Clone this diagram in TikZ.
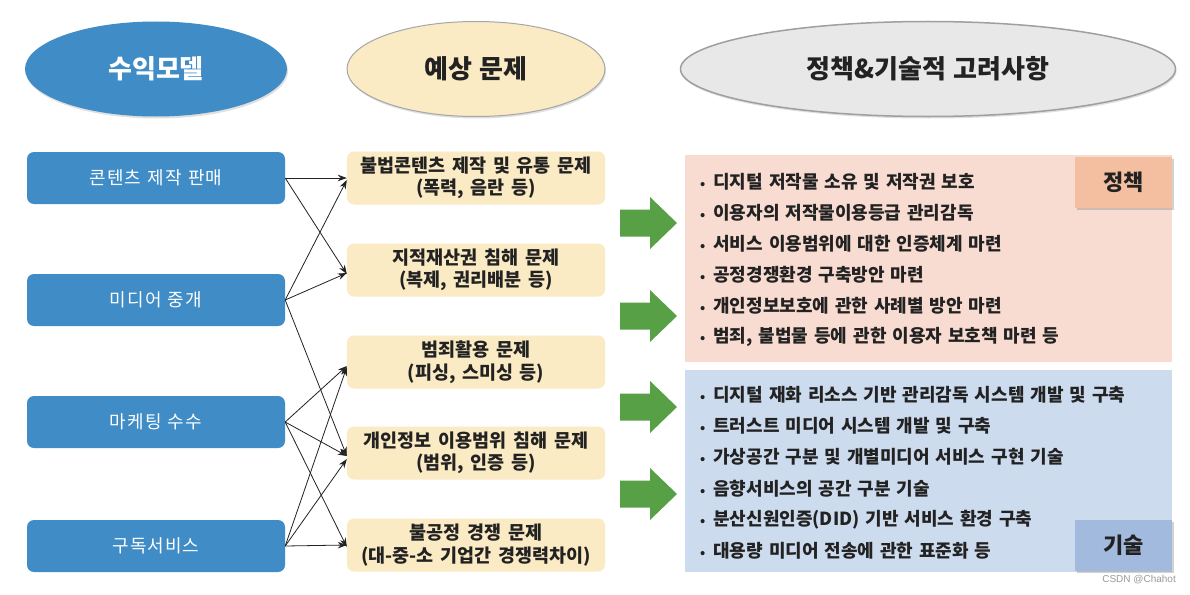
\documentclass[tikz,border=0pt]{standalone}
\usepackage{fontspec}
\setmainfont{Noto Sans CJK KR}
\newfontfamily\krls[LetterSpace=6]{Noto Sans CJK KR}
\newfontfamily\wmfont{Liberation Sans}
\usetikzlibrary{arrows.meta,shapes.geometric,shadows}
\definecolor{hblue}{HTML}{3F8CC6}
\definecolor{ylw}{HTML}{FBEBC4}
\definecolor{hgray}{HTML}{E8E8E8}
\definecolor{pinkp}{HTML}{F9DCD1}
\definecolor{pinkl}{HTML}{F4BFA0}
\definecolor{bluep}{HTML}{CDDBEF}
\definecolor{bluel}{HTML}{A2BADD}
\definecolor{grn}{HTML}{57A046}
\definecolor{txt}{HTML}{222222}
\newcommand\wsp[1]{\spaceskip=#1em plus 0.1em\relax}
\newcommand\bul{{\fontsize{13}{13}\selectfont•}\hspace{8pt}}
\tikzset{
  hdr/.style={ellipse, inner sep=0pt, minimum height=95pt, font=\fontsize{26}{28}\selectfont\bfseries\wsp{0.3},
    drop shadow={opacity=0.25, shadow xshift=1pt, shadow yshift=-2pt}},
  bbox/.style={rectangle, rounded corners=7pt, fill=hblue, text=white, minimum width=258pt, minimum height=52pt,
    inner sep=0pt, font=\krls\fontsize{18}{22}\selectfont\wsp{0.35}},
  ybox/.style={rectangle, rounded corners=7pt, fill=ylw, text=txt, minimum width=258pt, minimum height=53pt,
    inner sep=0pt, align=center, font=\fontsize{18.5}{22.5}\selectfont\bfseries\wsp{0.36}},
  panel/.style={rectangle, anchor=north west, inner sep=0pt, minimum width=487pt},
  item/.style={anchor=west, inner sep=0pt, text=txt, font=\fontsize{18}{20}\selectfont\bfseries\wsp{0.33}},
  tag/.style={rectangle, anchor=north west, inner sep=0pt, minimum width=97pt, minimum height=51pt,
    text=txt, font=\fontsize{22}{24}\selectfont\bfseries,
    drop shadow={opacity=0.35, shadow xshift=1.5pt, shadow yshift=-1.5pt}},
  link/.style={draw=txt, line width=0.8pt, -{Stealth[length=9pt,width=6.5pt]}},
  garrow/.pic={\fill[grn] (0,-13.5) -- (30,-13.5) -- (30,-26) -- (57,0) -- (30,26) -- (30,13.5) -- (0,13.5) -- cycle;}
}
\begin{document}
\begin{tikzpicture}[x=1pt,y=-1pt]
\useasboundingbox[fill=white] (0,0) rectangle (1190,594);

% headers
\node[hdr, fill=hblue, text=white, minimum width=262pt] (h1) at (156,69) {수익모델};
\node[hdr, fill=ylw, draw=gray!70, line width=1pt, text=txt, minimum width=258pt] (h2) at (476,69) {예상 문제};
\node[hdr, fill=hgray, draw=gray!75, line width=1.5pt, text=txt, minimum width=495pt] (h3) at (928,69) {정책\&기술적 고려사항};

% revenue models
\node[bbox] (b1) at (156,178) {콘텐츠 제작 판매};
\node[bbox] (b2) at (156,300) {미디어 중개};
\node[bbox] (b3) at (156,422) {마케팅 수수};
\node[bbox] (b4) at (156,546) {구독서비스};

% expected problems
\node[ybox] (y1) at (476,178) {불법콘텐츠 제작 및 유통 문제\\(폭력, 음란 등)};
\node[ybox] (y2) at (476,270) {지적재산권 침해 문제\\(복제, 권리배분 등)};
\node[ybox] (y3) at (476,362) {범죄활용 문제\\(피싱, 스미싱 등)};
\node[ybox] (y4) at (476,453) {개인정보 이용범위 침해 문제\\(범위, 인증 등)};
\node[ybox] (y5) at (476,545) {불공정 경쟁 문제\\(대-중-소 기업간 경쟁력차이)};

% connectors
\draw[link] (b1.east) -- (y1.west);
\draw[link] (b1.east) -- ([yshift=-4pt]y2.west);
\draw[link] (b2.east) -- ([yshift=-2pt]y1.west);
\draw[link] (b2.east) -- ([yshift=-3pt]y2.west);
\draw[link] (b2.east) -- ([yshift=-3pt]y4.west);
\draw[link] (b3.east) -- ([yshift=-4pt]y3.west);
\draw[link] (b3.east) -- ([yshift=-3pt]y4.west);
\draw[link] (b3.east) -- ([yshift=-2pt]y5.west);
\draw[link] (b4.east) -- ([yshift=-5pt]y3.west);
\draw[link] (b4.east) -- ([yshift=-6pt]y4.west);
\draw[link] (b4.east) -- (y5.west);

% green arrows
\pic at (620,223) {garrow};
\pic at (620,316) {garrow};
\pic at (620,407) {garrow};
\pic at (620,494) {garrow};

% policy panel
\node[panel, fill=pinkp, minimum height=207pt] (pol) at (685,155) {};
\node[tag, fill=pinkl] (polt) at (1075,157) {정책};
\node[item] (p1) at (700,182) {\bul 디지털 저작물 소유 및 저작권 보호};
\node[item] (p2) at (700,213) {\bul 이용자의 저작물이용등급 관리감독};
\node[item] (p3) at (700,244) {\bul 서비스 이용범위에 대한 인증체계 마련};
\node[item] (p4) at (700,275) {\bul 공정경쟁환경 구축방안 마련};
\node[item] (p5) at (700,306) {\bul 개인정보보호에 관한 사례별 방안 마련};
\node[item] (p6) at (700,337) {\bul 범죄, 불법물 등에 관한 이용자 보호책 마련 등};

% technology panel
\node[panel, fill=bluep, minimum height=202pt] (tec) at (685,370) {};
\node[tag, fill=bluel] (tect) at (1075,520) {기술};
\node[item] (t1) at (700,395) {\bul 디지털 재화 리소스 기반 관리감독 시스템 개발 및 구축};
\node[item] (t2) at (700,426) {\bul 트러스트 미디어 시스템 개발 및 구축};
\node[item] (t3) at (700,457) {\bul 가상공간 구분 및 개별미디어 서비스 구현 기술};
\node[item] (t4) at (700,489) {\bul 음향서비스의 공간 구분 기술};
\node[item] (t5) at (700,520) {\bul 분산신원인증(DID) 기반 서비스 환경 구축};
\node[item] (t6) at (700,551) {\bul 대용량 미디어 전송에 관한 표준화 등};

% watermark
\node[anchor=east, inner sep=0pt, text=gray!80, font=\wmfont\fontsize{10}{12}\selectfont] (wm) at (1176,580) {CSDN @Chahot};
\end{tikzpicture}
\end{document}
